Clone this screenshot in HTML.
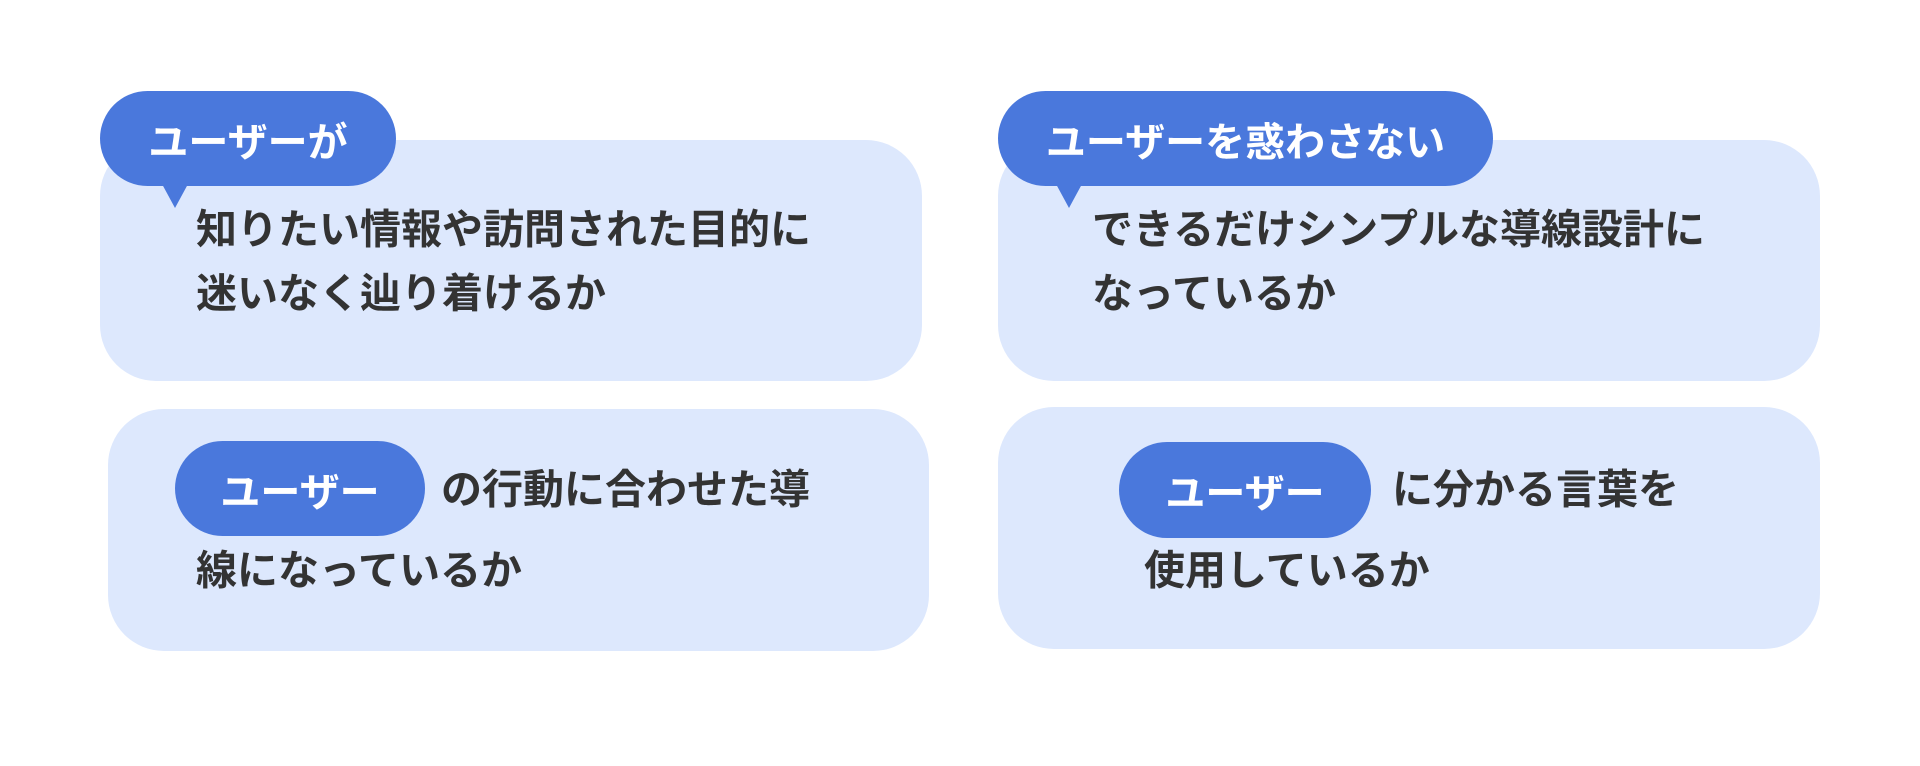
<!DOCTYPE html>
<html><head><meta charset="utf-8"><style>
body{margin:0;width:1920px;height:766px;background:#fff;position:relative;overflow:hidden;font-family:"Liberation Sans","Noto Sans CJK JP",sans-serif;font-weight:bold;}
.box{position:absolute;background:#dde8fd;border-radius:56px;}
.pill{position:absolute;background:#4a78dc;border-radius:48px;color:#fff;font-size:40px;display:flex;align-items:center;justify-content:center;white-space:nowrap;}
.t{position:absolute;color:#333;font-size:41px;line-height:41px;white-space:nowrap;transform:translateY(-50%);}
.tail{position:absolute;width:0;height:0;border-left:13px solid transparent;border-right:13px solid transparent;border-top:24px solid #4a78dc;}
</style></head><body>
<div class="box" style="left:100px;top:140px;width:822px;height:241px"></div>
<div class="tail" style="left:162px;top:184px"></div>
<div class="pill" style="left:100px;top:91px;width:296px;height:95px">ユーザーが</div>
<div class="t" style="left:196px;top:230px">知りたい情報や訪問された目的に</div>
<div class="t" style="left:196px;top:294px">迷いなく辿り着けるか</div>

<div class="box" style="left:108px;top:409px;width:821px;height:242px"></div>
<div class="pill" style="left:175px;top:441px;width:250px;height:95px">ユーザー</div>
<div class="t" style="left:441px;top:490px">の行動に合わせた導</div>
<div class="t" style="left:196px;top:571px">線になっているか</div>

<div class="box" style="left:998px;top:140px;width:822px;height:241px"></div>
<div class="tail" style="left:1056px;top:184px"></div>
<div class="pill" style="left:998px;top:91px;width:495px;height:95px">ユーザーを惑わさない</div>
<div class="t" style="left:1092px;top:230px">できるだけシンプルな導線設計に</div>
<div class="t" style="left:1092px;top:294px">なっているか</div>

<div class="box" style="left:998px;top:407px;width:822px;height:242px"></div>
<div class="pill" style="left:1119px;top:442px;width:252px;height:96px">ユーザー</div>
<div class="t" style="left:1392px;top:490px">に分かる言葉を</div>
<div class="t" style="left:1144px;top:571px">使用しているか</div>
</body></html>
